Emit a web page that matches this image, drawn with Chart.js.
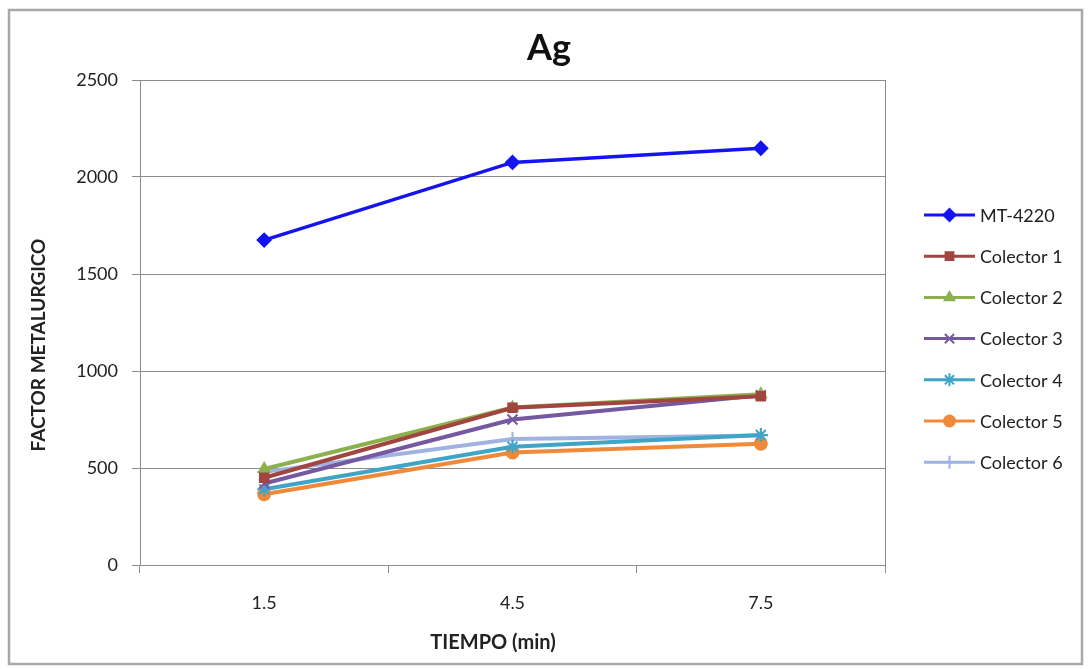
<!DOCTYPE html>
<html>
<head>
<meta charset="utf-8">
<script src="https://cdn.jsdelivr.net/npm/chart.js@4/dist/chart.umd.min.js"></script>
<style>
  html, body { margin: 0; padding: 0; background: #fff; }
  #wrap { width: 1089px; height: 669px; position: relative; }
</style>
</head>
<body>
<div id="wrap"><canvas id="agChart" width="1089" height="669"></canvas></div>
<script>
// data
var tiempos = ['1.5', '4.5', '7.5'];
var mt4220 = [1675, 2075, 2148];
var colector1 = [450, 810, 870];
var colector2 = [495, 812, 880];
var colector3 = [420, 750, 875];
var colector4 = [390, 610, 670];
var colector5 = [365, 580, 625];
var colector6 = [480, 650, 668];
var yTicks = [0, 500, 1000, 1500, 2000, 2500];
var titulo = 'Ag';
var tituloX = 'TIEMPO (min)';
var tituloY = 'FACTOR METALURGICO';

var FONT = 'Lato, "Open Sans", sans-serif';

function serie(label, data, color, style, radius, width) {
    return {
        label: label,
        data: data,
        borderColor: color,
        backgroundColor: color,
        pointBorderColor: color,
        pointBackgroundColor: color,
        borderWidth: width || 4,
        pointStyle: style,
        pointRadius: radius,
        pointBorderWidth: 2,
        fill: false,
        tension: 0
    };
}

var datasets = [
    serie('MT-4220', mt4220, '#1414f0', 'rectRot', 6.5, 3.5),
    serie('Colector 1', colector1, '#a0453f', 'rect', 6),
    serie('Colector 2', colector2, '#8db04f', 'triangle', 6),
    serie('Colector 3', colector3, '#7558a0', 'crossRot', 7),
    serie('Colector 4', colector4, '#3fa5c6', 'star', 7),
    serie('Colector 5', colector5, '#ef8a3a', 'circle', 6),
    serie('Colector 6', colector6, '#9fb2e2', 'cross', 7)
];

// outer frame, titles and plot border
var framePlugin = {
    id: 'frame',
    beforeDraw: function (chart) {
        var ctx = chart.ctx;
        ctx.save();
        ctx.fillStyle = '#fff';
        ctx.fillRect(0, 0, chart.width, chart.height);
        ctx.strokeStyle = '#a8a8a8';
        ctx.lineWidth = 2.5;
        ctx.strokeRect(9, 10, 1073, 654);
        ctx.fillStyle = '#111';
        ctx.font = 'bold 36px ' + FONT;
        ctx.textAlign = 'center';
        ctx.textBaseline = 'middle';
        ctx.fillText(titulo, 549, 48);
        // axis titles are not centred on the plot in the original
        ctx.fillStyle = '#222';
        ctx.font = 'bold 20px ' + FONT;
        ctx.fillText(tituloX, 493, 643);
        ctx.font = 'bold 19px ' + FONT;
        ctx.translate(39, 345);
        ctx.rotate(-Math.PI / 2);
        ctx.fillText(tituloY, 0, 0);
        ctx.restore();
    },
    beforeDatasetsDraw: function (chart) {
        var a = chart.chartArea, ctx = chart.ctx;
        ctx.save();
        ctx.strokeStyle = '#8c8c8c';
        ctx.lineWidth = 1;
        ctx.beginPath();
        ctx.moveTo(a.right + 0.5, a.top);
        ctx.lineTo(a.right + 0.5, a.bottom);
        ctx.stroke();
        ctx.restore();
    }
};

// legend with line + marker like the original
var legendPlugin = {
    id: 'sideLegend',
    afterDraw: function (chart) {
        var ctx = chart.ctx;
        var x0 = 924, x1 = 975, y = 215, step = 41.2;
        ctx.save();
        chart.data.datasets.forEach(function (ds, i) {
            var yy = y + i * step;
            ctx.strokeStyle = ds.borderColor;
            ctx.fillStyle = ds.borderColor;
            ctx.lineWidth = 3;
            ctx.beginPath();
            ctx.moveTo(x0, yy);
            ctx.lineTo(x1, yy);
            ctx.stroke();
            ctx.lineWidth = 2;
            Chart.helpers.drawPoint(ctx, {
                pointStyle: ds.pointStyle,
                radius: ds.pointRadius - 0.5,
                rotation: 0,
                borderWidth: 2
            }, (x0 + x1) / 2, yy);
            ctx.fillStyle = '#222';
            ctx.font = '18px ' + FONT;
            ctx.textBaseline = 'middle';
            ctx.textAlign = 'left';
            ctx.fillText(ds.label, x1 + 5, yy + 1);
        });
        ctx.restore();
    }
};

new Chart(document.getElementById('agChart').getContext('2d'), {
    type: 'line',
    data: { labels: tiempos, datasets: datasets },
    plugins: [framePlugin, legendPlugin],
    options: {
        responsive: false,
        animation: false,
        layout: { padding: { left: 0, right: 204, top: 80, bottom: 9 } },
        plugins: {
            legend: { display: false },
            tooltip: { enabled: false },
            title: { display: false }
        },
        scales: {
            x: {
                offset: true,
                afterFit: function (s) { s.height = 95; },
                grid: { offset: true, drawOnChartArea: false, tickLength: 8, color: '#8c8c8c' },
                border: { color: '#8c8c8c' },
                ticks: { color: '#222', padding: 19, font: { family: FONT, size: 18 } },
                title: { display: false }
            },
            y: {
                min: 0,
                max: 2500,
                afterFit: function (s) { s.width = 140; },
                afterBuildTicks: function (s) { s.ticks = yTicks.map(function (v) { return { value: v }; }); },
                grid: { color: '#8c8c8c', tickLength: 8 },
                border: { color: '#8c8c8c' },
                ticks: {
                    color: '#222',
                    padding: 14,
                    font: { family: FONT, size: 18 },
                    callback: function (v) { return String(v); }
                },
                title: { display: false }
            }
        }
    }
});
</script>
</body>
</html>
